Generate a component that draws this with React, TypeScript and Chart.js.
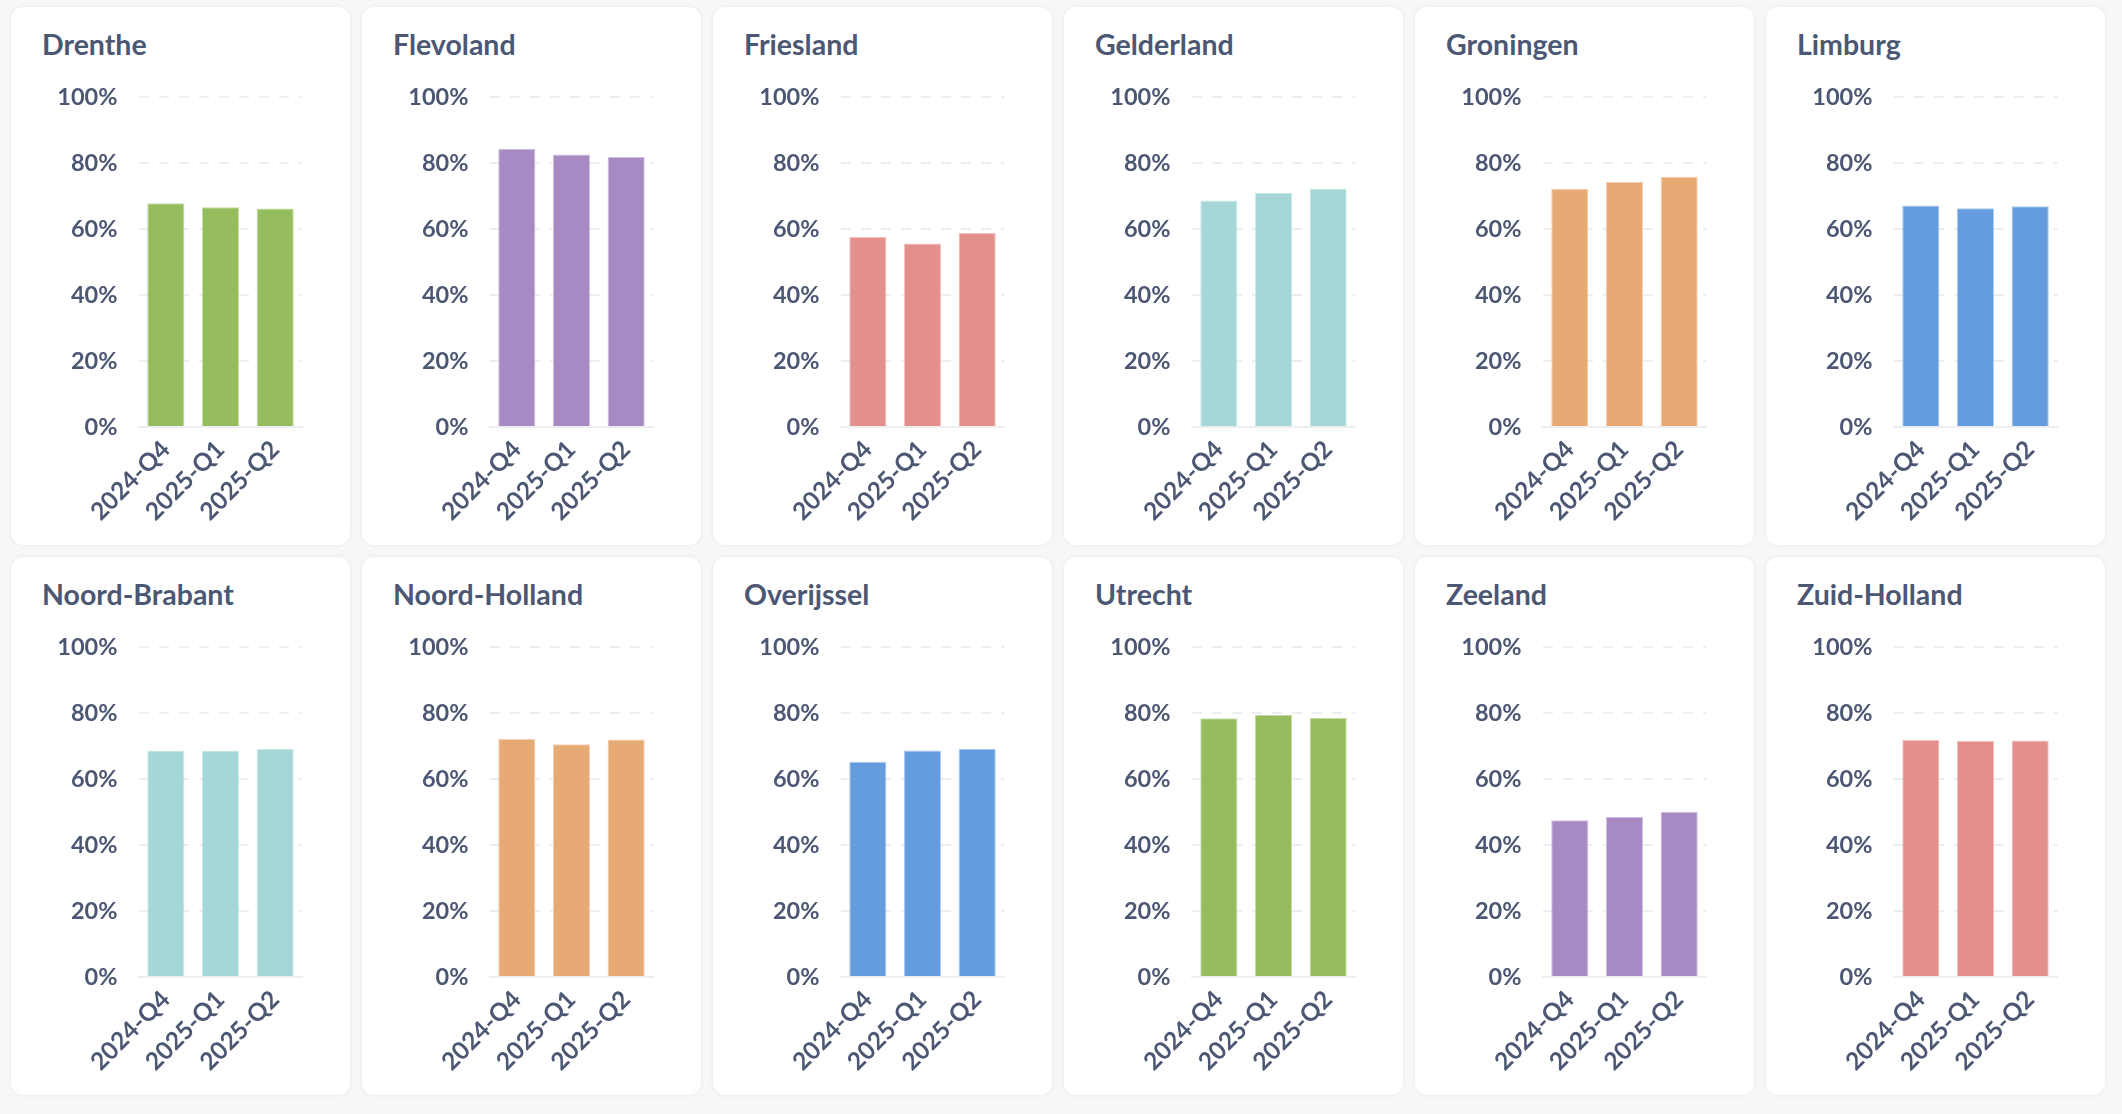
import { useEffect, useRef } from 'react';
import Chart from 'chart.js/auto';

// Share per quarter, per province (percent).
const QUARTERS = ['2024-Q4', '2025-Q1', '2025-Q2'];
const Y_MAX = 100;
const Y_STEP = 20;

const DRENTHE = [67.8, 66.6, 66.2];
const FLEVOLAND = [84.3, 82.6, 81.8];
const FRIESLAND = [57.6, 55.6, 58.8];
const GELDERLAND = [68.6, 71.0, 72.3];
const GRONINGEN = [72.2, 74.3, 75.8];
const LIMBURG = [67.1, 66.3, 66.9];
const NOORD_BRABANT = [68.6, 68.6, 69.2];
const NOORD_HOLLAND = [72.1, 70.5, 72.0];
const OVERIJSSEL = [65.2, 68.6, 69.2];
const UTRECHT = [78.4, 79.5, 78.5];
const ZEELAND = [47.5, 48.5, 50.1];
const ZUID_HOLLAND = [71.8, 71.6, 71.7];

const GREEN = '#95BD5E';
const PURPLE = '#A78AC3';
const RED = '#E3908C';
const TEAL = '#A6D7D8';
const ORANGE = '#E8AA75';
const BLUE = '#659CDD';

const PANELS = [
  { name: 'Drenthe', values: DRENTHE, color: GREEN },
  { name: 'Flevoland', values: FLEVOLAND, color: PURPLE },
  { name: 'Friesland', values: FRIESLAND, color: RED },
  { name: 'Gelderland', values: GELDERLAND, color: TEAL },
  { name: 'Groningen', values: GRONINGEN, color: ORANGE },
  { name: 'Limburg', values: LIMBURG, color: BLUE },
  { name: 'Noord-Brabant', values: NOORD_BRABANT, color: TEAL },
  { name: 'Noord-Holland', values: NOORD_HOLLAND, color: ORANGE },
  { name: 'Overijssel', values: OVERIJSSEL, color: BLUE },
  { name: 'Utrecht', values: UTRECHT, color: GREEN },
  { name: 'Zeeland', values: ZEELAND, color: PURPLE },
  { name: 'Zuid-Holland', values: ZUID_HOLLAND, color: RED },
];

const TEXT = '#4C5773';
const GRID = '#EDEEF0';
const PAGE_BG = '#F6F7F9';
const FONT = 'Lato, "Noto Sans", sans-serif';

const CARD_W = 339;
const CARD_H = 538;
const COLS = 6;

// lighter edge for the bars
function tint(hex: string, amount = 0.45) {
  const n = parseInt(hex.slice(1), 16);
  const mix = (c: number) => Math.round(c + (255 - c) * amount);
  const r = mix((n >> 16) & 255);
  const g = mix((n >> 8) & 255);
  const b = mix(n & 255);
  return `rgb(${r}, ${g}, ${b})`;
}

function Panel({ name, values, color, left, top }: {
  name: string; values: number[]; color: string; left: number; top: number;
}) {
  const canvasRef = useRef<HTMLCanvasElement | null>(null);

  useEffect(() => {
    const ctx = canvasRef.current;
    if (!ctx) return;
    const chart = new Chart(ctx, {
      type: 'bar',
      data: {
        labels: QUARTERS,
        datasets: [{
          data: values,
          backgroundColor: color,
          borderColor: tint(color),
          borderWidth: 1,
          barPercentage: 0.85,
          categoryPercentage: 0.8,
        }],
      },
      options: {
        animation: false,
        responsive: true,
        maintainAspectRatio: false,
        layout: { padding: { top: 30, right: 47.5, left: 0, bottom: 0 } },
        plugins: { legend: { display: false }, tooltip: { enabled: false } },
        scales: {
          x: {
            grid: { display: false },
            border: { display: true, color: GRID, width: 2 },
            ticks: {
              color: TEXT, font: { family: FONT, size: 24.5, weight: 'bold' }, autoSkip: false,
              minRotation: 45, maxRotation: 45, padding: 0,
            },
            afterFit: (s) => { s.height = 118; },
          },
          y: {
            min: 0,
            max: Y_MAX,
            // invisible tick marks stand in for the label gap, so the
            // tick padding does not push the plot area down
            grid: { color: GRID, lineWidth: 2, drawTicks: true, tickLength: 21, tickColor: 'rgba(0,0,0,0)' },
            border: { display: false, dash: [10, 10] },
            ticks: {
              stepSize: Y_STEP, padding: 0, color: TEXT,
              font: { family: FONT, size: 23.5, weight: 'bold' },
              callback: (v) => `${v}%`,
            },
            afterFit: (s) => { s.width = 127.5; },
          },
        },
      },
    });
    return () => chart.destroy();
  }, [values, color]);

  return (
    <div style={{
      position: 'absolute', left, top, width: CARD_W, height: CARD_H,
      background: '#fff', borderRadius: 12,
      boxShadow: '0 0 4px rgba(0, 0, 0, 0.07)',
    }}>
      <div style={{
        position: 'absolute', left: 31, top: 23, lineHeight: '28px',
        fontFamily: FONT, fontWeight: 700, fontSize: 28.5, color: TEXT,
        whiteSpace: 'nowrap',
      }}>
        {name}
      </div>
      <div style={{ position: 'absolute', left: 0, top: 60, width: CARD_W, height: CARD_H - 60 }}>
        <canvas ref={canvasRef} />
      </div>
    </div>
  );
}

export default function App() {
  return (
    <div style={{
      position: 'absolute', left: 0, top: 0, width: 2122, height: 1114,
      background: PAGE_BG, overflow: 'hidden',
    }}>
      {PANELS.map((p, i) => (
        <Panel
          key={p.name}
          name={p.name}
          values={p.values}
          color={p.color}
          left={11 + (i % COLS) * 351}
          top={7 + Math.floor(i / COLS) * 550}
        />
      ))}
    </div>
  );
}
